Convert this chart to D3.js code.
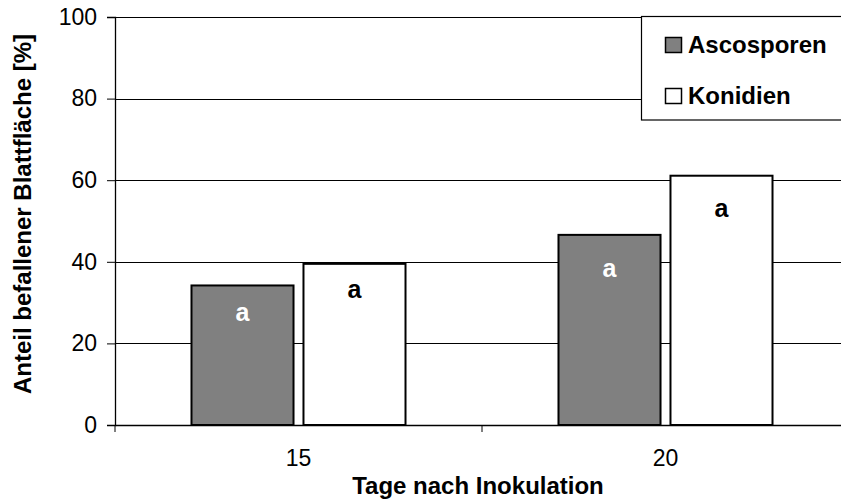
<!DOCTYPE html>
<html><head><meta charset="utf-8">
<script src="https://cdn.jsdelivr.net/npm/d3@7"></script>
<style>body{margin:0;background:#fff}svg{display:block;font-family:"Liberation Sans",Arial,sans-serif}</style>
</head><body><svg id="c" width="841" height="501"></svg>
<script>
const categories = ["15", "20"];
const seriesNames = ["Ascosporen", "Konidien"];
const ascosporen = [34.2, 46.6];
const konidien = [39.5, 61.1];
const letters = [["a", "a"], ["a", "a"]];
const yTicks = [0, 20, 40, 60, 80, 100];
// style: label baseline offset (px) below bar top, per series/category
const labelOffsets = [[36, 42], [34, 41]];

const FONT = "Liberation Sans, Arial, sans-serif";
const svg = d3.select("#c");
const L = 115, R = 849, T = 17, B = 425;
const x = d3.scaleBand().domain(categories).range([L, R]).paddingInner(0).paddingOuter(0);
const y = d3.scaleLinear().domain([0, 100]).range([B, T]);
const xs = d3.scaleBand().domain(seriesNames).range([0, x.bandwidth()]).paddingInner(0.089).paddingOuter(0.683);
const fills = ["#808080", "#ffffff"];
const labelColors = ["#ffffff", "#000000"];
const values = [ascosporen, konidien];

// gridlines
svg.append("g").selectAll("line").data(yTicks.filter(d => d > 0)).join("line")
  .attr("x1", L).attr("x2", R).attr("y1", d => Math.round(y(d)) + 0.5).attr("y2", d => Math.round(y(d)) + 0.5)
  .attr("stroke", "#000").attr("stroke-width", 1);

// bars
seriesNames.forEach((s, si) => {
  const g = svg.append("g");
  g.selectAll("rect").data(categories).join("rect")
    .attr("x", c => x(c) + xs(s)).attr("width", xs.bandwidth())
    .attr("y", (c, i) => y(values[si][i])).attr("height", (c, i) => B - y(values[si][i]))
    .attr("fill", fills[si]).attr("stroke", "#000").attr("stroke-width", 2);
  g.selectAll("text").data(categories).join("text")
    .attr("x", c => x(c) + xs(s) + xs.bandwidth() / 2)
    .attr("y", (c, i) => y(values[si][i]) + labelOffsets[si][i])
    .attr("text-anchor", "middle").attr("font-weight", "bold").attr("font-size", 25)
    .attr("fill", labelColors[si]).text((c, i) => letters[si][i]);
});

// y axis
const ya = svg.append("g").attr("transform", `translate(${L},0)`)
  .call(d3.axisLeft(y).tickValues(yTicks).tickSize(8).tickPadding(10));
ya.select(".domain").attr("stroke", "#000").attr("stroke-width", 1.3);
ya.selectAll(".tick line").attr("stroke", "#000");
ya.selectAll("text").attr("font-size", 23).attr("fill", "#000").attr("font-family", FONT);

// x axis
const xa = svg.append("g").attr("transform", `translate(0,${B})`)
  .call(d3.axisBottom(x).tickSize(0).tickPadding(25));
xa.select(".domain").attr("stroke", "#000").attr("stroke-width", 1.3);
xa.selectAll("text").attr("font-size", 23).attr("fill", "#000").attr("font-family", FONT);
svg.append("g").selectAll("line").data(categories).join("line")
  .attr("x1", c => x(c)).attr("x2", c => x(c)).attr("y1", B).attr("y2", B + 7)
  .attr("stroke", "#000");

// axis titles
svg.append("text").attr("x", 478).attr("y", 494).attr("text-anchor", "middle")
  .attr("font-weight", "bold").attr("font-size", 24).text("Tage nach Inokulation");
svg.append("text").attr("transform", "translate(31,214) rotate(-90)").attr("text-anchor", "middle")
  .attr("font-weight", "bold").attr("font-size", 24).text("Anteil befallener Blattfläche [%]");

// legend
const lg = svg.append("g");
lg.append("rect").attr("x", 641.5).attr("y", 16.5).attr("width", 220).attr("height", 103.5)
  .attr("fill", "#fff").attr("stroke", "#000").attr("stroke-width", 1.2);
seriesNames.forEach((s, i) => {
  lg.append("rect").attr("x", 665.5).attr("y", 37.5 + i * 51).attr("width", 16).attr("height", 15)
    .attr("fill", fills[i]).attr("stroke", "#000").attr("stroke-width", 1.5);
  lg.append("text").attr("x", 688).attr("y", 52.5 + i * 51).attr("font-weight", "bold").attr("font-size", 24).text(s);
});
</script></body></html>
